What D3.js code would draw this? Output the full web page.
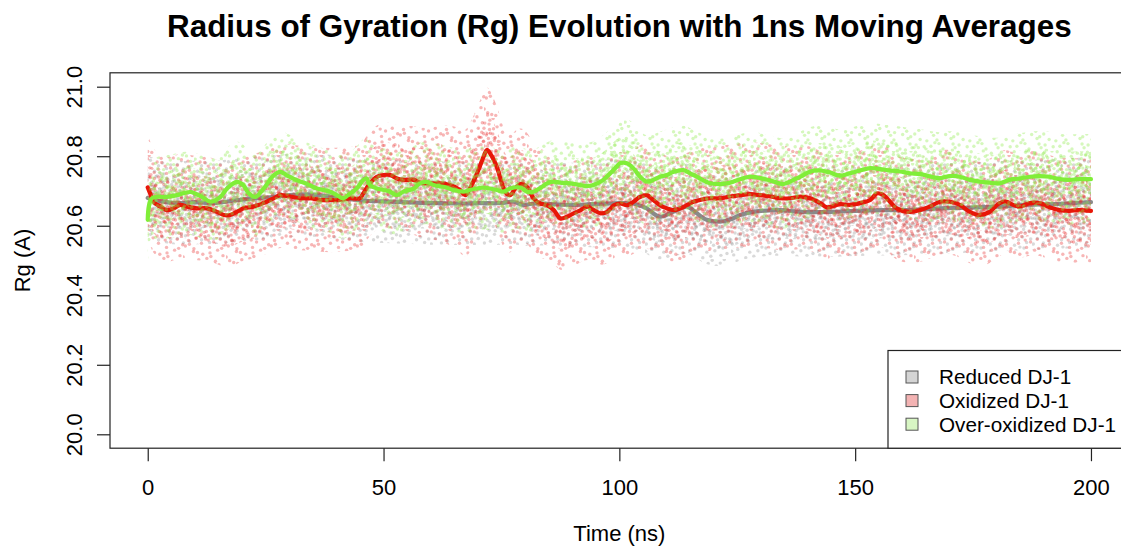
<!DOCTYPE html>
<html><head><meta charset="utf-8">
<script src="https://cdn.jsdelivr.net/npm/d3@7"></script>
<style>
body{margin:0;background:#fff}
svg{display:block}
text{font-family:"Liberation Sans",Arial,Helvetica,sans-serif;fill:#000}
</style>
</head><body>
<svg id="chart" width="1121" height="546"></svg>
<script>
// ---------------- data ----------------
const chartTitle = "Radius of Gyration (Rg) Evolution with 1ns Moving Averages";
const xLabel = "Time (ns)";
const yLabel = "Rg (A)";
const xTicks = [0, 50, 100, 150, 200];
const yTicks = [20.0, 20.2, 20.4, 20.6, 20.8, 21.0];
const seriesNames = ["Reduced DJ-1", "Oxidized DJ-1", "Over-oxidized DJ-1"];

// 1 ns moving averages
const reducedT = [0,3,6,10,14,18,22,26,30,34,38,42,46,50,54,58,62,66,70.5,74.7,77.5,79.6,82,86,90,94,98,101,103.5,105.8,108.6,111.4,114.3,116.5,118.5,121.4,123.5,125.6,128.4,134.1,138.3,144.7,150,156,162,168,174,180,186,192,196,200];
const reducedV = [20.68,20.67,20.665,20.668,20.665,20.672,20.678,20.682,20.688,20.69,20.685,20.678,20.672,20.67,20.668,20.666,20.665,20.664,20.665,20.665,20.669,20.66,20.664,20.662,20.66,20.662,20.664,20.665,20.662,20.65,20.626,20.64,20.655,20.635,20.617,20.612,20.618,20.631,20.64,20.645,20.64,20.64,20.643,20.645,20.645,20.65,20.652,20.655,20.66,20.662,20.665,20.668];

const oxidizedT = [0,0.6,1.2,2.7,4.1,5.5,6.9,8.3,10.4,12.6,14.7,16.1,17.5,18.9,20.3,22.4,24.5,26.7,28.1,30.2,32.3,34.4,36.6,38.7,40.8,42.9,45.0,45.7,47.1,48.6,50.0,51.4,52.8,54.2,56.4,57.7,59.9,62.0,64.1,66.2,67.3,68.3,69.8,71.2,71.9,72.6,74.0,75.1,75.8,76.8,77.9,79.0,80.4,81.8,83.2,84.7,86.1,87.5,88.9,90.4,91.8,93.2,94.6,96.0,97.4,98.8,100.2,101.6,103.0,104.4,105.8,107.2,108.6,110.1,111.5,112.9,114.3,115.7,117.1,119.3,121.4,123.5,125.6,127.7,129.9,132.0,134.1,136.2,138.4,140.5,142.6,144.0,145.4,146.8,148.9,151.0,153.2,154.6,156.0,157.4,158.8,161.6,163.7,165.8,168.0,170.1,172.2,174.3,176.4,178.5,180.6,182.1,183.5,184.9,187.0,189.1,191.2,193.3,195.4,197.5,200];
const oxidizedV = [20.71,20.69,20.669,20.655,20.645,20.65,20.66,20.655,20.65,20.65,20.64,20.631,20.631,20.64,20.65,20.655,20.665,20.679,20.688,20.684,20.679,20.679,20.674,20.674,20.674,20.679,20.679,20.693,20.722,20.741,20.746,20.746,20.736,20.732,20.732,20.724,20.722,20.722,20.717,20.703,20.688,20.707,20.75,20.798,20.818,20.808,20.77,20.722,20.698,20.688,20.707,20.72,20.712,20.679,20.664,20.659,20.645,20.621,20.626,20.636,20.645,20.655,20.645,20.636,20.64,20.659,20.664,20.659,20.669,20.683,20.688,20.674,20.659,20.65,20.645,20.65,20.659,20.669,20.674,20.679,20.679,20.684,20.688,20.691,20.688,20.684,20.679,20.679,20.684,20.679,20.665,20.653,20.657,20.662,20.66,20.665,20.674,20.693,20.688,20.669,20.65,20.64,20.645,20.655,20.669,20.669,20.66,20.64,20.631,20.64,20.665,20.669,20.66,20.655,20.665,20.665,20.653,20.645,20.643,20.645,20.643];

const overT = [0,0.9,4.1,6.2,9.0,11.5,13.3,15.4,16.8,18.9,20.3,21.4,22.8,24.6,26.7,28.1,29.5,31.6,33.7,35.9,38.7,40.1,41.5,42.9,44.3,45.7,46.4,47.1,48.6,50.0,51.4,52.8,54.2,56.4,57.7,59.2,60.6,62.7,64.8,66.9,68.3,69.7,71.2,72.6,74.0,75.4,76.8,79.0,80.4,81.8,83.2,84.7,86.1,87.4,89.6,91.7,93.1,94.5,96.6,98.8,100.2,101.6,103.0,104.4,105.8,107.2,108.6,110.1,111.5,113.6,115.0,116.4,119.3,121.4,123.5,125.6,127.7,129.9,132.0,133.4,134.8,136.2,138.4,140.5,142.6,144.7,146.8,148.9,151.0,153.2,155.3,157.4,159.5,161.6,163.7,165.8,168.0,170.1,172.2,174.3,176.4,178.5,180.6,182.7,184.8,187.0,189.1,191.2,193.3,195.4,197.5,200];
const overV = [20.617,20.679,20.683,20.688,20.697,20.683,20.669,20.683,20.707,20.726,20.716,20.693,20.683,20.707,20.745,20.755,20.745,20.731,20.721,20.707,20.698,20.688,20.679,20.693,20.707,20.731,20.736,20.717,20.707,20.703,20.698,20.688,20.698,20.707,20.722,20.726,20.717,20.712,20.703,20.698,20.703,20.707,20.71,20.707,20.703,20.698,20.707,20.71,20.698,20.698,20.708,20.722,20.727,20.724,20.722,20.717,20.714,20.717,20.732,20.761,20.78,20.78,20.765,20.741,20.727,20.732,20.741,20.746,20.755,20.76,20.751,20.741,20.722,20.72,20.724,20.734,20.741,20.737,20.73,20.724,20.72,20.727,20.741,20.756,20.759,20.753,20.744,20.751,20.759,20.766,20.763,20.759,20.756,20.751,20.749,20.742,20.737,20.743,20.741,20.732,20.727,20.724,20.722,20.732,20.736,20.741,20.743,20.741,20.734,20.732,20.734,20.734];

// half-width of each raw-frame scatter cloud around its average
const spreadT       = [0,10,20,30,40,50,60,70,80,90,100,110,120,130,140,150,160,170,180,190,200];
const reducedSpread = [0.12,0.12,0.12,0.12,0.12,0.12,0.12,0.12,0.12,0.12,0.13,0.13,0.13,0.13,0.13,0.13,0.13,0.13,0.13,0.13,0.13];
const oxidizedSpread= [0.15,0.15,0.15,0.15,0.15,0.15,0.16,0.19,0.16,0.15,0.15,0.15,0.15,0.15,0.15,0.15,0.15,0.15,0.15,0.15,0.15];
const overSpread    = [0.12,0.12,0.12,0.12,0.12,0.12,0.12,0.12,0.12,0.12,0.13,0.13,0.13,0.13,0.13,0.13,0.13,0.13,0.13,0.13,0.13];

// ---------------- drawing ----------------
const plot = {left:110, right:1128.7, top:72.8, bottom:448.2};
const svg = d3.select("#chart");

const x = d3.scaleLinear().domain([-8, 208]).range([plot.left, plot.right]);
const y = d3.scaleLinear().domain([19.96, 21.04]).range([plot.bottom, plot.top]);

const styles = [
  {dot:"rgb(150,150,150)", dotOp:0.36, line:"#8a8a8a", key:"#d4d4d4"},
  {dot:"rgb(232,40,40)",   dotOp:0.34, line:"#e81608", key:"#f3b3b3"},
  {dot:"rgb(140,232,70)",  dotOp:0.36, line:"#80ee38", key:"#d8f6c4"}
];
const seriesData = [
  {t:reducedT, v:reducedV, sp:reducedSpread},
  {t:oxidizedT, v:oxidizedV, sp:oxidizedSpread},
  {t:overT, v:overV, sp:overSpread}
];

const defs = svg.append("defs");
defs.append("clipPath").attr("id","clip").append("rect")
  .attr("x",plot.left).attr("y",plot.top)
  .attr("width",plot.right-plot.left).attr("height",plot.bottom-plot.top);

// stipple texture for the point clouds (styling only: evenly spread Halton dots in a tile)
function halton(i,b){let f=1,r=0;while(i>0){f/=b;r+=f*(i%b);i=Math.floor(i/b);}return r;}
const tileSizes = [[43,37],[47,31],[39,41]];
const dotsPerTile = [36, 38, 40];
const levels = [1.0, 0.62, 0.33];
styles.forEach((st,si)=>{
  tileSizes.forEach((ts,li)=>{
    const p = defs.append("pattern").attr("id",`p${si}${li}`)
      .attr("patternUnits","userSpaceOnUse")
      .attr("x",si*11+li*5).attr("y",si*7+li*13)
      .attr("width",ts[0]).attr("height",ts[1]);
    const start = 1 + si*97 + li*41;
    for(let k=0;k<dotsPerTile[li];k++){
      const cx = halton(start+k,2)*ts[0], cy = halton(start+k,3)*ts[1];
      [[0,0],[ts[0],0],[0,ts[1]],[ts[0],ts[1]]].forEach(o=>{
        p.append("circle").attr("cx",cx-o[0]).attr("cy",cy-o[1]).attr("r",1.7)
          .attr("fill",st.dot).attr("fill-opacity",st.dotOp);
      });
    }
  });
});

// each series: its point cloud, then its 1 ns moving average on top
const gPlot = svg.append("g").attr("clip-path","url(#clip)");
seriesData.forEach((s,si)=>{
  const spr = d3.scaleLinear().domain(spreadT).range(s.sp);
  const pts = s.t.map((t,i)=>({t, v:s.v[i], s:spr(t)}));
  levels.forEach((k,li)=>{
    const area = d3.area()
      .x(d=>x(d.t))
      .y0(d=>y(d.v - k*d.s))
      .y1(d=>y(d.v + k*d.s))
      .curve(d3.curveBasis);
    gPlot.append("path").datum(pts).attr("d",area)
      .attr("fill",`url(#p${si}${li})`).attr("stroke","none");
  });
  const line = d3.line().x((d,i)=>x(s.t[i])).y(d=>y(d)).curve(d3.curveCatmullRom.alpha(0.5));
  gPlot.append("path").datum(s.v).attr("d",line)
    .attr("fill","none").attr("stroke",styles[si].line)
    .attr("stroke-width",4.2).attr("stroke-linejoin","round").attr("stroke-linecap","round");
});

// box
svg.append("rect").attr("x",plot.left).attr("y",plot.top)
  .attr("width",plot.right-plot.left).attr("height",plot.bottom-plot.top)
  .attr("fill","none").attr("stroke","#222").attr("stroke-width",1.2);

// axes
const tickFont = 22;
const xAxis = svg.append("g").attr("transform",`translate(0,${plot.bottom})`)
  .call(d3.axisBottom(x).tickValues(xTicks).tickFormat(d3.format("d")).tickSize(13).tickPadding(18));
xAxis.select(".domain").remove();
xAxis.selectAll("line").attr("stroke","#222").attr("stroke-width",1.2);
xAxis.selectAll("text").attr("font-size",tickFont).attr("font-family",null).attr("fill","#000");

const yAxis = svg.append("g").attr("transform",`translate(${plot.left},0)`)
  .call(d3.axisLeft(y).tickValues(yTicks).tickFormat(d3.format(".1f")).tickSize(13));
yAxis.select(".domain").remove();
yAxis.selectAll("line").attr("stroke","#222").attr("stroke-width",1.2);
yAxis.selectAll("text").attr("font-size",tickFont).attr("font-family",null).attr("fill","#000")
  .attr("x",0).attr("dy",null).attr("text-anchor","middle")
  .attr("transform","translate(-28,0) rotate(-90)");

// titles
svg.append("text").attr("x",(plot.left+plot.right)/2).attr("y",37)
  .attr("text-anchor","middle").attr("font-weight","bold").attr("font-size",31.4)
  .text(chartTitle);
svg.append("text").attr("x",(plot.left+plot.right)/2).attr("y",541)
  .attr("text-anchor","middle").attr("font-size",22).text(xLabel);
svg.append("text").attr("transform",`translate(30,${(plot.top+plot.bottom)/2}) rotate(-90)`)
  .attr("text-anchor","middle").attr("font-size",22).text(yLabel);

// legend
const lg = svg.append("g");
lg.append("rect").attr("x",888).attr("y",350.5).attr("width",260).attr("height",plot.bottom-350.5)
  .attr("fill","#fff").attr("stroke","#222").attr("stroke-width",1.2);
seriesNames.forEach((n,i)=>{
  const cy = 377 + i*23.6;
  lg.append("rect").attr("x",906).attr("y",cy-6).attr("width",12).attr("height",12)
    .attr("fill",styles[i].key).attr("stroke","#555").attr("stroke-width",1);
  lg.append("text").attr("x",939).attr("y",cy).attr("dy","0.36em")
    .attr("font-size",20.7).text(n);
});
</script>
</body></html>
